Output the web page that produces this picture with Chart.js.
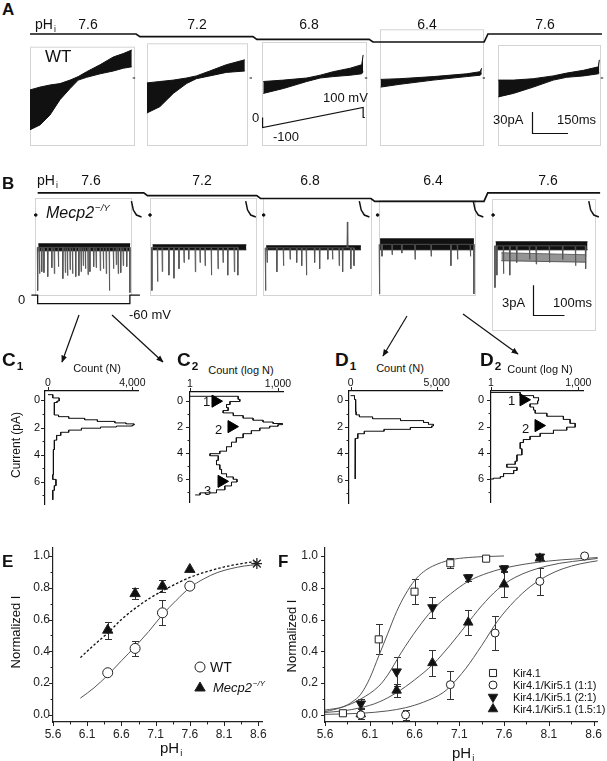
<!DOCTYPE html>
<html>
<head>
<meta charset="utf-8">
<script src="https://cdn.jsdelivr.net/npm/chart.js"></script>
<style>
html, body { margin: 0; padding: 0; background: #fff; }
#page { position: relative; width: 607px; height: 761px; overflow: hidden;
        font-family: "Liberation Sans", Arial, sans-serif; color: #111; }
canvas { position: absolute; }
svg { position: absolute; left: 0; top: 0; }
.t { position: absolute; white-space: nowrap; line-height: 1; }
.c { transform: translateX(-50%); }
.b { font-weight: bold; }
.i { font-style: italic; }
.k { font-size: 11px; letter-spacing: -0.15px; }
.rot { transform: translate(-50%, -50%) rotate(-90deg); }
sub { font-size: 0.62em; vertical-align: 0; position: relative; top: 0.35em; margin-left: 1px; }
sup { font-size: 0.6em; vertical-align: 0; position: relative; top: -0.75em; margin-left: 1px; }
</style>
</head>
<body>
<div id="page">

<svg width="607" height="761">
  <defs>
    <marker id="ah" viewBox="0 0 10 10" refX="9" refY="5" markerWidth="6" markerHeight="6" orient="auto">
      <path d="M0,1 L10,5 L0,9 z" fill="#111"/>
    </marker>
  </defs>
  <line x1="79" y1="315" x2="62" y2="362" stroke="#111" stroke-width="1.2" marker-end="url(#ah)"/>
  <line x1="112" y1="315" x2="163" y2="362" stroke="#111" stroke-width="1.2" marker-end="url(#ah)"/>
  <line x1="407" y1="316" x2="383" y2="356" stroke="#111" stroke-width="1.2" marker-end="url(#ah)"/>
  <line x1="463" y1="314" x2="518" y2="354" stroke="#111" stroke-width="1.2" marker-end="url(#ah)"/>
</svg>

<canvas id="chartA" width="607" height="130" style="left:0;top:20px"></canvas>
<canvas id="chartB" width="607" height="170" style="left:0;top:165px"></canvas>
<canvas id="chartC1" width="150" height="140" style="left:0;top:376px"></canvas>
<canvas id="chartC2" width="140" height="140" style="left:160px;top:376px"></canvas>
<canvas id="chartD1" width="150" height="140" style="left:310px;top:376px"></canvas>
<canvas id="chartD2" width="147" height="140" style="left:460px;top:376px"></canvas>
<canvas id="chartE" width="300" height="231" style="left:0;top:530px"></canvas>
<canvas id="chartF" width="307" height="231" style="left:300px;top:530px"></canvas>

<!-- A -->
<div class="t b" style="left:2px;top:1px;font-size:17px">A</div>
<div class="t" style="left:35px;top:17px;font-size:14px">pH<sub>i</sub></div>
<div class="t c" style="left:88px;top:17px;font-size:14px">7.6</div>
<div class="t c" style="left:197px;top:17px;font-size:14px">7.2</div>
<div class="t c" style="left:309px;top:17px;font-size:14px">6.8</div>
<div class="t c" style="left:427px;top:17px;font-size:14px">6.4</div>
<div class="t c" style="left:545px;top:17px;font-size:14px">7.6</div>
<div class="t" style="left:45px;top:48px;font-size:17px">WT</div>
<div class="t" style="left:252px;top:111px;font-size:13px">0</div>
<div class="t" style="left:273px;top:130px;font-size:13px">-100</div>
<div class="t" style="left:323px;top:91px;font-size:13px">100 mV</div>
<div class="t" style="left:493px;top:113px;font-size:13px">30pA</div>
<div class="t" style="left:557px;top:113px;font-size:13px">150ms</div>

<!-- B -->
<div class="t b" style="left:2px;top:175px;font-size:17px">B</div>
<div class="t" style="left:37px;top:173px;font-size:14px">pH<sub>i</sub></div>
<div class="t c" style="left:91px;top:173px;font-size:14px">7.6</div>
<div class="t c" style="left:202px;top:173px;font-size:14px">7.2</div>
<div class="t c" style="left:310px;top:173px;font-size:14px">6.8</div>
<div class="t c" style="left:433px;top:173px;font-size:14px">6.4</div>
<div class="t c" style="left:548px;top:173px;font-size:14px">7.6</div>
<div class="t i" style="left:46px;top:205px;font-size:16px">Mecp2<sup>−/Y</sup></div>
<div class="t" style="left:18px;top:293px;font-size:13px">0</div>
<div class="t" style="left:129px;top:308px;font-size:13px">-60 mV</div>
<div class="t" style="left:502px;top:296px;font-size:13px">3pA</div>
<div class="t" style="left:553px;top:296px;font-size:13px">100ms</div>

<!-- C / D -->
<div class="t b" style="left:2px;top:350px;font-size:19px">C<sub>1</sub></div>
<div class="t c" style="left:97px;top:363px;font-size:11px">Count (N)</div>
<div class="t rot" style="left:16px;top:445px;font-size:12px">Current (pA)</div>
<div class="t b" style="left:177px;top:350px;font-size:19px">C<sub>2</sub></div>
<div class="t c" style="left:241px;top:365px;font-size:11px">Count (log N)</div>
<div class="t" style="left:203px;top:395px;font-size:13px">1</div>
<div class="t" style="left:215px;top:423px;font-size:13px">2</div>
<div class="t" style="left:204px;top:484px;font-size:13px">3</div>
<div class="t b" style="left:335px;top:350px;font-size:19px">D<sub>1</sub></div>
<div class="t c" style="left:400px;top:363px;font-size:11px">Count (N)</div>
<div class="t b" style="left:480px;top:350px;font-size:19px">D<sub>2</sub></div>
<div class="t c" style="left:540px;top:364px;font-size:11px">Count (log N)</div>
<div class="t" style="left:508px;top:394px;font-size:13px">1</div>
<div class="t" style="left:522px;top:422px;font-size:13px">2</div>

<!-- E / F -->
<div class="t b" style="left:2px;top:553px;font-size:17px">E</div>
<div class="t rot" style="left:15px;top:632px;font-size:13px">Normalized I</div>
<div class="t" style="left:160px;top:740px;font-size:15px">pH<sub>i</sub></div>
<div class="t" style="left:210px;top:660px;font-size:14px">WT</div>
<div class="t i" style="left:213px;top:681px;font-size:13px">Mecp2<sup>−/Y</sup></div>
<div class="t b" style="left:278px;top:553px;font-size:17px">F</div>
<div class="t rot" style="left:291px;top:636px;font-size:13px">Normalized I</div>
<div class="t" style="left:452px;top:745px;font-size:15px">pH<sub>i</sub></div>
<div class="t k" style="left:513px;top:668px">Kir4.1</div>
<div class="t k" style="left:513px;top:680px">Kir4.1/Kir5.1 (1:1)</div>
<div class="t k" style="left:513px;top:692px">Kir4.1/Kir5.1 (2:1)</div>
<div class="t k" style="left:513px;top:704px">Kir4.1/Kir5.1 (1.5:1)</div>
</div>

<script>
// ---------- A: whole-cell ramp currents (WT), ms / pA ----------
const phA = [7.6, 7.2, 6.8, 6.4, 7.6];
const phChangeA = [450, 937, 1421, 1900];
const phSpanA = [0, 2383];
const segStartA = [0, 487, 967, 1458, 1950];
const tA1 = [0, 42, 83, 125, 167, 201, 236, 292, 347, 389, 424];
const hiA1 = [-17, -13, -10, -8, -3, 2, 9, 19, 30, 35, 40];
const loA1 = [-74, -67, -53, -31, -15, -3, 1, 6, 10, 14, 16];
const tA2 = [0, 54, 110, 165, 206, 262, 331, 408];
const hiA2 = [-7, -5, -3, 0, 3, 10, 19, 26];
const loA2 = [-50, -41, -22, -8, -1, 3, 8, 10];
const tA3 = [5, 89, 186, 242, 296, 367, 415, 421];
const hiA3 = [-5, -3, 0, 4, 9, 14, 19, 33];
const loA3 = [-22, -15, -5, 0, 2, 4, 6, 9];
const tA4 = [3, 83, 222, 361, 417, 424];
const hiA4 = [-2, -1, 2, 6, 9, 14];
const loA4 = [-13, -9, -3, 2, 4, 6];
const tA5 = [1, 64, 147, 230, 286, 356, 418, 422];
const hiA5 = [-3, -3, -1, 3, 7, 11, 16, 26];
const loA5 = [-27, -22, -13, -3, 1, 3, 6, 7];
const zeroMarkA = [428, 438];
const rampT = [2, 2, 421, 421, 428];
const rampMv = [0, -100, 100, 0, 0];
const frameLA = [0, 487, 967, 1458, 1950];
const frameRA = [433, 904, 1400, 1887, 2375];

// ---------- B: single-channel records (Mecp2-/Y), ms / pA ----------
const phB = [7.6, 7.2, 6.8, 6.4, 7.6];
const phChangeB = [353, 712, 1075, 1434];
const phSpanB = [10, 1797];
const segStartB = [10, 373, 734, 1096, 1463];
const durB = [294, 300, 303, 300, 294];
const bandHiB = [2.7, 2.6, 2.5, 3.2, 2.9];
const bandLoB = [2.0, 2.1, 2.1, 2.1, 2.1];
const spikeTB1 = [0, 6, 13, 20, 32, 45, 53, 66, 80, 88, 95, 103, 111, 121, 131, 138, 145, 152, 160, 166, 178, 186, 199, 209, 218, 228, 241, 250, 256, 264, 272, 283, 293];
const spikeIB1 = [-2.0, -0.3, -0.1, -0.2, -0.6, 0.3, -0.3, 0.4, -0.8, -0.2, -0.5, 0.1, -0.3, -0.6, -0.5, -0.1, 0.5, 0.2, -0.4, -0.1, 0.4, 0.3, 0.0, 0.2, -0.3, -2.0, 0.2, 0.6, -0.3, -0.2, 0.5, 0.4, -2.2];
const spikeTB2 = [0, 18, 33, 54, 70, 86, 102, 117, 138, 153, 169, 189, 210, 226, 241, 262, 273];
const spikeIB2 = [-2.0, -1.1, -0.1, -0.45, -0.76, 0.19, 0.82, 1.14, -0.12, 0.82, 0.5, -0.45, 0.19, 0.82, -0.45, -0.12, -0.45];
const spikeTB3 = [0, 5, 36, 57, 78, 99, 115, 130, 156, 172, 198, 213, 234, 245, 260, 271, 281];
const spikeIB3 = [-2.0, 0.82, -0.12, 0.5, 1.14, 0.82, 0.5, -0.45, 0.82, 0.19, 1.14, 1.14, 0.5, -0.12, 4.9, 0.19, 0.5];
const spikeTB4 = [0, 8, 40, 71, 113, 164, 227, 248, 289, 300];
const spikeIB4 = [-2.34, 1.45, 1.61, 1.77, 1.14, 1.45, 0.5, 1.14, 1.45, -2.34];
const spikeTB5 = [0, 6, 27, 47, 69, 110, 131, 173, 215, 256, 288];
const spikeIB5 = [-1.7, -0.45, -0.3, -0.45, 0.82, 1.14, 0.66, 0.82, 1.14, 0.5, 0.19];
const subBandT = [20, 290];
const subBandHi = [1.8, 1.6];
const subBandLo = [1.0, 0.85];
const tailTB = [298, 304, 314, 330];
const tailIB = [7.0, 6.1, 5.6, 5.4];
const vStepT = [-10, 10, 10, 303, 303, 335];
const vStepMv = [0, 0, -60, -60, 0, 0];
const frameLB = [0, 366, 725, 1094, 1453];
const frameRB = [306, 703, 1069, 1400, 1781];

// ---------- C / D: amplitude histograms (current pA, count) ----------
const c1Current = [-0.42, -0.42, -0.18, 0.05, 0.16, 1.08, 1.2, 1.32, 1.43, 1.55, 1.66, 1.73, 1.82, 1.89, 1.96, 2.05, 2.19, 2.35, 2.58, 2.93, 3.62, 5.47, 5.82, 6.28, 6.62, 7.32];
const c1Count = [0, 226, 528, 430, 302, 500, 981, 1736, 2340, 3170, 3698, 4075, 4000, 3245, 2490, 1585, 981, 604, 408, 302, 257, 226, 377, 302, 226, 226];
const c2Current = [-0.35, -0.35, -0.12, 0.05, 0.28, 0.51, 0.74, 0.92, 1.13, 1.32, 1.48, 1.62, 1.73, 1.82, 1.94, 2.08, 2.28, 2.51, 2.82, 3.16, 3.51, 3.85, 4.04, 4.2, 4.55, 4.89, 5.24, 5.58, 5.82, 6.0, 6.21, 6.51, 6.81, 7.04, 7.2];
const c2Count = [1, 44, 50, 23, 17.6, 20, 13.5, 30, 65, 141, 310, 680, 1400, 1000, 520, 240, 124, 65, 38, 26, 17.6, 10.4, 4.8, 9.2, 8, 10.4, 11.9, 17.6, 30, 40, 26, 15.4, 8, 2.2, 1.5];
const c2MarkCount = [7.4, 26, 11.9];
const c2MarkCurrent = [0.02, 1.97, 6.16];
const d1Current = [-0.35, -0.35, -0.07, 0.4, 0.87, 1.1, 1.25, 1.39, 1.53, 1.67, 1.81, 1.93, 2.05, 2.19, 2.33, 2.52, 2.87, 3.69, 5.93];
const d1Count = [0, 229, 286, 305, 324, 515, 1278, 2900, 4236, 4522, 4808, 4713, 3473, 1946, 801, 420, 286, 267, 267];
const d2Current = [-0.59, -0.59, -0.35, -0.19, 0.05, 0.28, 0.52, 0.75, 0.99, 1.22, 1.46, 1.76, 2.05, 2.28, 2.52, 2.75, 2.99, 3.22, 3.69, 4.16, 4.64, 4.87, 5.1, 5.34, 5.58, 5.81, 5.93, 6.0, 6.0];
const d2Count = [1, 10.1, 29, 43, 40, 22, 29, 33, 83, 307, 522, 780, 400, 140, 49, 22, 13, 10.1, 11.5, 7.8, 6.8, 3.5, 7.8, 6, 2.7, 2.1, 1.2, 1.1, 1];
const d2MarkCount = [13.1, 42.9];
const d2MarkCurrent = [-0.03, 1.93];
const currentTicks = [0, 2, 4, 6];
const currentMinor = [1, 3, 5, 7];

// ---------- E / F: normalized current vs pHi ----------
const phTicks = [5.6, 6.1, 6.6, 7.1, 7.6, 8.1, 8.6];
const normTicks = [0, 0.2, 0.4, 0.6, 0.8, 1.0];
const phE = [6.4, 6.8, 7.2, 7.6];
const wtE = [0.265, 0.418, 0.642, 0.81];
const wtErrE = [0, 0.047, 0.078, 0];
const mecpE = [0.533, 0.763, 0.81, 0.915];
const mecpErrE = [0.053, 0.035, 0.037, 0];
const starPhE = [8.58];
const starE = [0.952];
const fitPhE = [6.0, 6.2, 6.4, 6.6, 6.8, 7.0, 7.2, 7.4, 7.6, 7.8, 8.0, 8.2, 8.4, 8.58];
const wtFit = [0.105, 0.17, 0.25, 0.34, 0.43, 0.525, 0.63, 0.72, 0.8, 0.855, 0.895, 0.92, 0.937, 0.945];
const mecpFit = [0.36, 0.44, 0.515, 0.6, 0.67, 0.73, 0.78, 0.825, 0.865, 0.895, 0.92, 0.94, 0.955, 0.965];

const phKir = [5.8, 6.2, 6.6, 7.0, 7.4];
const kir = [0.01, 0.475, 0.775, 0.954, 0.983];
const kirErr = [0, 0.095, 0.08, 0.03, 0];
const ph11 = [6.0, 6.5, 7.0, 7.5, 8.0, 8.5];
const k11 = [0.0, 0.0, 0.19, 0.515, 0.84, 1.0];
const k11Err = [0, 0.03, 0.088, 0.11, 0.085, 0];
const phMix = [6.0, 6.4, 6.8, 7.2, 7.6, 8.0];
const k21 = [0.07, 0.272, 0.676, 0.864, 0.92, 0.995];
const k21Err = [0.03, 0.09, 0.065, 0.02, 0.02, 0.01];
const k151 = [0.005, 0.154, 0.327, 0.582, 0.822, 0.985];
const k151Err = [0.03, 0.04, 0.08, 0.08, 0.082, 0.01];
const kirFitPh = [5.6, 5.8, 5.9, 6.0, 6.1, 6.2, 6.3, 6.4, 6.5, 6.6, 6.7, 6.8, 7.0, 7.2, 7.6];
const kirFit = [0.02, 0.05, 0.08, 0.13, 0.23, 0.37, 0.51, 0.65, 0.76, 0.845, 0.9, 0.935, 0.975, 0.99, 1.0];
const k11FitPh = [5.6, 6.0, 6.3, 6.5, 6.7, 6.92, 7.0, 7.17, 7.35, 7.53, 7.72, 7.9, 8.08, 8.26, 8.45, 8.65];
const k11Fit = [0.003, 0.01, 0.025, 0.045, 0.08, 0.14, 0.18, 0.29, 0.436, 0.592, 0.718, 0.81, 0.875, 0.92, 0.95, 0.97];
const k21FitPh = [5.6, 5.8, 6.0, 6.2, 6.3, 6.45, 6.63, 6.8, 7.0, 7.2, 7.43, 7.7, 8.1, 8.65];
const k21Fit = [0.03, 0.05, 0.1, 0.18, 0.25, 0.39, 0.54, 0.66, 0.76, 0.84, 0.895, 0.935, 0.968, 0.99];
const k151FitPh = [5.6, 5.8, 6.0, 6.2, 6.4, 6.6, 6.81, 7.0, 7.17, 7.35, 7.53, 7.72, 8.08, 8.65];
const k151Fit = [0.015, 0.025, 0.045, 0.08, 0.14, 0.22, 0.32, 0.44, 0.56, 0.686, 0.79, 0.864, 0.937, 0.985];

const FONT = '"Liberation Sans", Arial, sans-serif';
const INK = '#111';
Chart.defaults.font.family = FONT;
Chart.defaults.color = INK;

// helpers
function pts(xs, ys, off) {
    return xs.map((x, i) => ({ x: x + (off || 0), y: ys[i] }));
}
function stepLine(levels, changes, span, slant) {
    const out = [{ x: span[0], y: levels[0] }];
    changes.forEach((c, i) => {
        out.push({ x: c - slant, y: levels[i] });
        out.push({ x: c + slant, y: levels[i + 1] });
    });
    out.push({ x: span[1], y: levels[levels.length - 1] });
    return out;
}
function histOutline(cur, cnt) {
    const out = [];
    cur.forEach((c, i) => {
        out.push({ x: cnt[i], y: c });
        if (i < cur.length - 1) out.push({ x: cnt[i], y: cur[i + 1] });
    });
    return out;
}
function mids(arr) {
    const out = [];
    for (let i = 1; i < arr.length; i++) out.push((arr[i - 1] + arr[i]) / 2);
    return out;
}
function withCommas(v) {
    return String(Math.round(v)).replace(/\B(?=(\d{3})+(?!\d))/g, ',');
}

// plugins
function tickMarks(axes) {
    return {
        id: 'tickMarks',
        afterDraw(chart) {
            const ctx = chart.ctx;
            ctx.save();
            ctx.strokeStyle = '#222';
            ctx.lineWidth = 1;
            axes.forEach(a => {
                const sc = chart.scales[a.id];
                const mark = (v, len) => {
                    const p = Math.round(sc.getPixelForValue(v)) + 0.5;
                    ctx.beginPath();
                    if (sc.isHorizontal()) {
                        const top = sc.position === 'top';
                        const y0 = top ? sc.bottom : sc.top;
                        ctx.moveTo(p, y0);
                        ctx.lineTo(p, y0 + (top ? -len : len));
                    } else {
                        ctx.moveTo(sc.right, p);
                        ctx.lineTo(sc.right - len, p);
                    }
                    ctx.stroke();
                };
                (a.major || []).forEach(v => mark(v, 4));
                (a.minor || []).forEach(v => mark(v, 2.5));
            });
            ctx.restore();
        }
    };
}
function frames(lefts, rights, tops, bottoms) {
    return {
        id: 'frames',
        beforeDatasetsDraw(chart) {
            const ctx = chart.ctx, xs = chart.scales.x;
            ctx.save();
            ctx.strokeStyle = '#d4d4d4';
            ctx.lineWidth = 1;
            lefts.forEach((l, i) => {
                const x0 = Math.round(xs.getPixelForValue(l)) + 0.5;
                const x1 = Math.round(xs.getPixelForValue(rights[i])) + 0.5;
                ctx.strokeRect(x0, tops[i] + 0.5, x1 - x0, bottoms[i] - tops[i]);
            });
            ctx.restore();
        }
    };
}
function scaleBar(px, py, ms, pA) {
    return {
        id: 'scaleBar',
        afterDatasetsDraw(chart) {
            const xs = chart.scales.x, ys = chart.scales.y, ctx = chart.ctx;
            const w = xs.getPixelForValue(ms) - xs.getPixelForValue(0);
            const h = ys.getPixelForValue(0) - ys.getPixelForValue(pA);
            ctx.save();
            ctx.strokeStyle = INK;
            ctx.lineWidth = 1.2;
            ctx.beginPath();
            ctx.moveTo(px + 0.5, py - h);
            ctx.lineTo(px + 0.5, py + 0.5);
            ctx.lineTo(px + w, py + 0.5);
            ctx.stroke();
            ctx.restore();
        }
    };
}
const errBars = {
    id: 'errBars',
    beforeDatasetsDraw(chart) {
        const ctx = chart.ctx, xs = chart.scales.x, ys = chart.scales.y;
        chart.data.datasets.forEach(ds => {
            if (!ds.err) return;
            ctx.save();
            ctx.strokeStyle = '#333';
            ctx.lineWidth = 1;
            ds.data.forEach((p, i) => {
                const e = ds.err[i];
                if (!e) return;
                const x = Math.round(xs.getPixelForValue(p.x)) + 0.5;
                const y0 = Math.round(ys.getPixelForValue(p.y + e)) + 0.5;
                const y1 = Math.round(ys.getPixelForValue(p.y - e)) + 0.5;
                ctx.beginPath();
                ctx.moveTo(x, y0); ctx.lineTo(x, y1);
                ctx.moveTo(x - 3.5, y0); ctx.lineTo(x + 3.5, y0);
                ctx.moveTo(x - 3.5, y1); ctx.lineTo(x + 3.5, y1);
                ctx.stroke();
            });
            ctx.restore();
        });
    }
};
function drawMark(ctx, m) {
    ctx.save();
    ctx.translate(m.x, m.y);
    ctx.rotate((m.rot || 0) * Math.PI / 180);
    ctx.beginPath();
    if (m.style === 'circle') {
        ctx.arc(0, 0, m.r, 0, 2 * Math.PI);
    } else if (m.style === 'rect') {
        const s = m.r * Math.SQRT1_2;
        ctx.rect(-s, -s, 2 * s, 2 * s);
    } else {
        for (let k = 0; k < 3; k++) {
            const a = k * 2 * Math.PI / 3;
            ctx[k ? 'lineTo' : 'moveTo'](Math.sin(a) * m.r, -Math.cos(a) * m.r);
        }
        ctx.closePath();
    }
    ctx.fillStyle = m.fill;
    ctx.fill();
    ctx.lineWidth = 1;
    ctx.strokeStyle = '#222';
    ctx.stroke();
    ctx.restore();
}
function key(items) {
    return { id: 'key', afterDatasetsDraw(chart) { items.forEach(m => drawMark(chart.ctx, m)); } };
}

const quiet = { legend: { display: false }, tooltip: { enabled: false } };

function traceChart(id, sets, ranges, plugins) {
    const scales = {};
    Object.keys(ranges).forEach(k => {
        scales[k] = { type: 'linear', display: false, min: ranges[k][0], max: ranges[k][1] };
        if (k !== 'x') scales[k].axis = 'y';
    });
    return new Chart(document.getElementById(id), {
        type: 'line',
        data: { datasets: sets },
        options: {
            responsive: false, animation: false, devicePixelRatio: 1, events: [],
            layout: { padding: 0 },
            plugins: quiet,
            scales: scales
        },
        plugins: plugins
    });
}

// ---- A ----
const setsA = [];
[[tA1, hiA1, loA1], [tA2, hiA2, loA2], [tA3, hiA3, loA3], [tA4, hiA4, loA4], [tA5, hiA5, loA5]]
    .forEach(([t, hi, lo], k) => {
        const s = segStartA[k];
        setsA.push({ data: pts(t, hi, s), borderColor: INK, backgroundColor: INK, borderWidth: 1, pointRadius: 0, fill: '+1' });
        setsA.push({ data: pts(t, lo, s), borderColor: INK, borderWidth: 1, pointRadius: 0, fill: false });
        setsA.push({ data: pts(zeroMarkA, [0, 0], s), borderColor: INK, borderWidth: 1, pointRadius: 0, fill: false });
    });
setsA.push({ data: stepLine(phA, phChangeA, phSpanA, 8), yAxisID: 'ph', borderColor: INK, borderWidth: 1.7, pointRadius: 0, fill: false });
setsA.push({ data: pts(rampT, rampMv, segStartA[2]), yAxisID: 'mv', borderColor: INK, borderWidth: 1.2, pointRadius: 0, fill: false });

traceChart('chartA', setsA,
    { x: [-125, 2404], y: [-102.9, 82.9], ph: [-9.79, 9.7], mv: [-325, 975] },
    [frames(frameLA, frameRA, [26.7, 23.3, 22, 9.3, 25], [125, 125, 125, 125, 125]),
     scaleBar(532, 113, 150, 30)]);

// ---- B ----
const setsB = [];
[[spikeTB1, spikeIB1], [spikeTB2, spikeIB2], [spikeTB3, spikeIB3], [spikeTB4, spikeIB4], [spikeTB5, spikeIB5]]
    .forEach(([ts, is], k) => {
        const s = segStartB[k];
        const mid = (bandHiB[k] + bandLoB[k]) / 2;
        const sp = [];
        ts.forEach((t, i) => {
            sp.push({ x: s + t - 1.2, y: mid }, { x: s + t, y: is[i] }, { x: s + t + 1.2, y: mid });
        });
        setsB.push({ data: sp, borderColor: '#555', borderWidth: 0.9, pointRadius: 0, fill: false });
        setsB.push({ data: [{ x: s + 2, y: bandHiB[k] }, { x: s + durB[k], y: bandHiB[k] }],
            borderColor: INK, backgroundColor: INK, borderWidth: 1, pointRadius: 0, fill: '+1' });
        setsB.push({ data: [{ x: s + 2, y: bandLoB[k] }, { x: s + durB[k], y: bandLoB[k] }],
            borderColor: INK, borderWidth: 1, pointRadius: 0, fill: false });
        setsB.push({ data: pts(tailTB, tailIB, s), borderColor: INK, borderWidth: 1.5, pointRadius: 0, fill: false });
        setsB.push({ data: [{ x: s - 6, y: 5.6 }], showLine: false, pointRadius: 1.3, pointBackgroundColor: INK, pointBorderColor: INK });
    });
setsB.push({ data: pts(subBandT, subBandHi, segStartB[4]), borderColor: '#666', backgroundColor: 'rgba(60,60,60,0.55)', borderWidth: 1, pointRadius: 0, fill: '+1' });
setsB.push({ data: pts(subBandT, subBandLo, segStartB[4]), borderColor: '#666', borderWidth: 1, pointRadius: 0, fill: false });
setsB.push({ data: stepLine(phB, phChangeB, phSpanB, 6), yAxisID: 'ph', borderColor: INK, borderWidth: 1.7, pointRadius: 0, fill: false });
setsB.push({ data: pts(vStepT, vStepMv), yAxisID: 'mv', borderColor: INK, borderWidth: 1.3, pointRadius: 0, fill: false });

traceChart('chartB', setsB,
    { x: [-93.75, 1803], y: [-5.97, 10.13], ph: [-11.83, 10.84], mv: [-246.7, 886.7] },
    [frames(frameLB, frameRB, [33, 33, 33, 35, 34], [130, 130, 130, 130, 165]),
     scaleBar(533, 150, 100, 3)]);

// ---- C / D histograms ----
function histChart(id, cur, cnt, cfg) {
    const sets = [{ data: histOutline(cur, cnt), borderColor: INK, borderWidth: 1, pointRadius: 0, fill: false }];
    if (cfg.markC) {
        sets.unshift({ data: pts(cfg.markC, cfg.markI), showLine: false, pointStyle: 'triangle', pointRotation: 90,
            pointRadius: 7, pointBackgroundColor: '#000', pointBorderColor: '#000' });
    }
    return new Chart(document.getElementById(id), {
        type: 'line',
        data: { datasets: sets },
        options: {
            responsive: false, animation: false, devicePixelRatio: 1, events: [],
            layout: { padding: { left: 0, top: 0, right: cfg.padR, bottom: cfg.padB } },
            plugins: quiet,
            scales: {
                x: {
                    type: cfg.log ? 'logarithmic' : 'linear', position: 'top', min: cfg.xMin, max: cfg.xMax,
                    grid: { display: false, drawTicks: false }, border: { color: INK, width: 1.2 },
                    afterBuildTicks: s => { s.ticks = cfg.xTicks.map(v => ({ value: v })); },
                    afterFit: s => { s.height = cfg.xH; },
                    ticks: { autoSkip: false, maxRotation: 0, padding: 2, font: { size: 10.5 }, color: INK, callback: v => withCommas(v) }
                },
                y: {
                    type: 'linear', reverse: true, min: cfg.yMin, max: cfg.yMax,
                    grid: { display: false, drawTicks: false }, border: { color: INK, width: 1.2 },
                    afterBuildTicks: s => { s.ticks = currentTicks.map(v => ({ value: v })); },
                    afterFit: s => { s.width = cfg.yW; },
                    ticks: { padding: cfg.yPad, font: { size: 11 }, color: INK }
                }
            }
        },
        plugins: [tickMarks([{ id: 'x', major: cfg.xTicks }, { id: 'y', major: currentTicks, minor: currentMinor }])]
    });
}

histChart('chartC1', c1Current, c1Count, { xMin: -142, xMax: 4265, xTicks: [0, 4000], yMin: -0.69, yMax: 7.66,
    yW: 45, xH: 15, padR: 12, padB: 4, yPad: 5 });
histChart('chartC2', c2Current, c2Count, { log: true, xMin: 1, xMax: 1483, xTicks: [1, 1000], yMin: -0.68, yMax: 7.77,
    yW: 30, xH: 16, padR: 17, padB: 3, yPad: 7, markC: c2MarkCount, markI: c2MarkCurrent });
histChart('chartD1', d1Current, d1Count, { xMin: -90, xMax: 5307, xTicks: [0, 5000], yMin: -0.7, yMax: 7.77,
    yW: 39, xH: 15, padR: 18, padB: 4, yPad: 6 });
histChart('chartD2', d2Current, d2Count, { log: true, xMin: 1, xMax: 1450, xTicks: [1, 1000], yMin: -0.7, yMax: 7.77,
    yW: 31, xH: 15, padR: 24, padB: 4, yPad: 7, markC: d2MarkCount, markI: d2MarkCurrent });

// ---- E / F dose-response ----
function doseChart(id, sets, cfg) {
    return new Chart(document.getElementById(id), {
        type: 'line',
        data: { datasets: sets },
        options: {
            responsive: false, animation: false, devicePixelRatio: 1, events: [],
            layout: { padding: { left: 0, right: cfg.padR, top: 18, bottom: 0 } },
            plugins: quiet,
            scales: {
                x: {
                    type: 'linear', min: 5.6, max: cfg.xMax,
                    grid: { display: false, drawTicks: false }, border: { color: '#222', width: 1.2 },
                    afterBuildTicks: s => { s.ticks = phTicks.map(v => ({ value: v })); },
                    afterFit: s => { s.height = 39; },
                    ticks: { autoSkip: false, maxRotation: 0, padding: 5, font: { size: 12 }, color: '#222', callback: v => v.toFixed(1) }
                },
                y: {
                    type: 'linear', min: -0.045, max: 1.05,
                    grid: { display: false, drawTicks: false }, border: { color: '#222', width: 1.2 },
                    afterBuildTicks: s => { s.ticks = normTicks.map(v => ({ value: v })); },
                    afterFit: s => { s.width = cfg.yW; },
                    ticks: { padding: cfg.yPad, font: { size: 12 }, color: '#222', callback: v => v.toFixed(1) }
                }
            }
        },
        plugins: [errBars,
            tickMarks([{ id: 'x', major: phTicks, minor: mids(phTicks) }, { id: 'y', major: normTicks, minor: mids(normTicks) }]),
            key(cfg.key)]
    });
}

const fitLine = (xs, ys, color, dash) => ({
    data: pts(xs, ys), borderColor: color, borderWidth: dash ? 1.3 : 1, borderDash: dash || [],
    pointRadius: 0, cubicInterpolationMode: 'monotone', fill: false, order: 2
});
const marks = (xs, ys, err, style, r, fill, rot) => ({
    data: pts(xs, ys), err: err, showLine: false, pointStyle: style, pointRadius: r, pointRotation: rot || 0,
    pointBackgroundColor: fill, pointBorderColor: '#222', pointBorderWidth: 1, order: 1
});

doseChart('chartE', [
    marks(phE, wtE, wtErrE, 'circle', 5, '#fff'),
    marks(phE, mecpE, mecpErrE, 'triangle', 6, INK),
    { data: pts(starPhE, starE), showLine: false, pointStyle: 'star', pointRadius: 5.5, pointBorderColor: '#222', pointBorderWidth: 1.3, order: 1 },
    fitLine(fitPhE, wtFit, '#555'),
    fitLine(fitPhE, mecpFit, INK, [2.5, 2])
], { xMax: 8.655, padR: 38, yW: 53, yPad: 3, key: [
    { style: 'circle', x: 200, y: 137, r: 5, fill: '#fff' },
    { style: 'triangle', x: 200, y: 158, r: 6, fill: INK }
] });

doseChart('chartF', [
    marks(phKir, kir, kirErr, 'rect', 5, '#fff'),
    marks(ph11, k11, k11Err, 'circle', 4, '#fff'),
    marks(phMix, k21, k21Err, 'triangle', 5.5, INK, 180),
    marks(phMix, k151, k151Err, 'triangle', 5.5, INK),
    fitLine(kirFitPh, kirFit, '#555'),
    fitLine(k11FitPh, k11Fit, '#555'),
    fitLine(k21FitPh, k21Fit, '#555'),
    fitLine(k151FitPh, k151Fit, '#555')
], { xMax: 8.645, padR: 2, yW: 25, yPad: 7, key: [
    { style: 'rect', x: 193, y: 143, r: 5, fill: '#fff' },
    { style: 'circle', x: 193, y: 155, r: 4, fill: '#fff' },
    { style: 'triangle', x: 193, y: 167, r: 5.5, fill: INK, rot: 180 },
    { style: 'triangle', x: 193, y: 179, r: 5.5, fill: INK }
] });
</script>
</body>
</html>
